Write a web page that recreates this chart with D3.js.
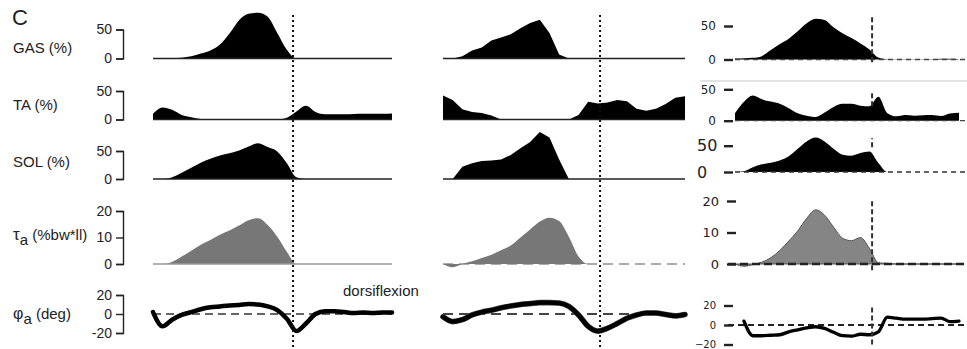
<!DOCTYPE html>
<html>
<head>
<meta charset="utf-8">
<script src="https://cdn.jsdelivr.net/npm/d3@7"></script>
<style>
    body { margin: 0; background: #fff; }
    text { font-family: "Liberation Sans", Arial, sans-serif; fill: #222; }
</style>
</head>
<body>
<div id="chart"></div>
<script>
// % of gait cycle, shared by every trace
const pct = [0, 4, 8, 12, 16, 20, 24, 28, 32, 36, 40, 44, 48, 52, 56, 60, 64, 68, 72, 76, 80, 84, 88, 92, 96, 100];

// left column
const gasLeft = [0, 0, 0.5, 1.5, 4, 8.5, 14, 24, 43, 66, 77, 79, 72, 44, 15, 0, 0, 0, 0, 0, 0, 0, 0, 0, 0, 0];
const taLeft = [10, 21, 17, 8, 4, 1, 0, 0, 0, 0, 0, 0, 0, 0, 3, 14, 24, 13, 9, 9, 9, 9.5, 10, 10, 10, 10.5];
const solLeft = [0, 0, 3, 11, 20, 29, 36, 42, 46, 51, 58, 64, 57, 49, 28, 3, 0, 0, 0, 0, 0, 0, 0, 0, 0, 0];
const torqueLeft = [0, 0, 0.8, 2.8, 5, 7.3, 9.1, 11, 12.6, 14.5, 16.5, 17.3, 14.7, 10.3, 4.6, 0, 0, 0, 0, 0, 0, 0, 0, 0, 0, 0];
const angleLeft = [2, -13, -6, -1, 2, 5, 7, 8, 9, 9.5, 10.5, 10, 8, 4, -5, -18, -10, 0, 3, 3, 2, 1, 1.5, 1, 1.5, 1.5];

// middle column
const gasMid = [0, 0, 4, 14, 19, 31, 36, 42, 52, 61, 67, 44, 7, 0, 0, 0, 0, 0, 0, 0, 0, 0, 0, 0, 0, 0];
const taMid = [42, 34, 18, 13, 11.5, 7, 0, 0, 0, 0, 0, 0, 0, 0, 8, 31, 28, 30, 34, 32, 19, 15.5, 19, 27, 38, 41];
const solMid = [0, 0, 22, 28, 32, 33, 35, 43, 55, 66, 84, 74, 35, 0, 0, 0, 0, 0, 0, 0, 0, 0, 0, 0, 0, 0];
const torqueMid = [0, -1.2, 0, 1, 2.3, 3.5, 5.2, 7, 10, 13, 16, 17.5, 16.2, 10.3, 2.8, 0, 0, 0, 0, 0, 0, 0, 0, 0, 0, 0];
const angleMid = [-3, -8, -6, -1, 2, 4, 6.5, 8.5, 10, 11, 12, 12, 11.5, 8, -1, -13, -18, -15, -10, -4.5, -1, 1, 1, -0.5, -2, -0.5];

// right column
const gasRight = [1.5, 2, 2.5, 5, 14, 23, 31, 42, 54, 61, 59, 48, 39, 32, 24, 15, 3, 0.5, 0.5, 0.5, 0.5, 0.5, 0.5, 1, 1, 0.5];
const taRight = [12, 30, 40, 34, 30.5, 27, 20, 12, 8, 6, 13, 22, 27, 27, 24, 23, 38, 12, 7, 9, 8, 8.5, 9, 7.5, 11.5, 12.5];
const solRight = [0, 1.5, 9, 14.5, 17.5, 22, 30, 44, 58, 65.5, 58, 44, 33, 31, 36, 39, 17, 0, 0, 0, 0, 0, 0, 0, 0, 0];
const torqueRight = [0, -0.7, -0.2, 0.6, 2, 4.3, 7.3, 10.5, 14.5, 17.2, 15.5, 11.7, 8.2, 7.4, 8.4, 5, 0.4, 0.2, 0, 0, 0, 0, 0, 0, 0, 0];
const angleRight = [null, 4, -11, -11, -10.5, -10, -7, -5, -3, -1.8, -3.5, -7.5, -11, -11.5, -9.5, -10, -7, 8, 7, 6, 6, 6, 6.5, 7, 3.4, 4];

const toeOff = [58.6, 64.9, 61.2];
const emgTicks = [0, 50];
const torqueTicks = [0, 10, 20];
const angleTicks = [-20, 0, 20];

const width = 967;
const height = 349;

const svg = d3.select("#chart").append("svg")
    .attr("width", width)
    .attr("height", height);

const xLeft = d3.scaleLinear().domain([0, 100]).range([153, 392]);
const xMid = d3.scaleLinear().domain([0, 100]).range([443, 685]);
const xRight = d3.scaleLinear().domain([0, 100]).range([735, 959]);

const yGas = d3.scaleLinear().domain([0, 50]).range([58.5, 29.5]);
const yTa = d3.scaleLinear().domain([0, 50]).range([119.5, 91]);
const ySol = d3.scaleLinear().domain([0, 50]).range([179, 151]);
const yTorque = d3.scaleLinear().domain([0, 20]).range([264, 211]);
const yAngle = d3.scaleLinear().domain([-20, 20]).range([333, 295]);

const yGasR = d3.scaleLinear().domain([0, 50]).range([59.5, 26]);
const yTaR = d3.scaleLinear().domain([0, 50]).range([120.7, 89.3]);
const ySolR = d3.scaleLinear().domain([0, 50]).range([172, 145.7]);
const yTorqueR = d3.scaleLinear().domain([0, 20]).range([264, 201]);
const yAngleR = d3.scaleLinear().domain([-20, 20]).range([344.5, 305.5]);

function drawArea(x, y, values, fill, curve, stroke) {
    const area = d3.area()
        .defined(d => d != null)
        .x((d, i) => x(pct[i]))
        .y0(y(0))
        .y1(d => y(d))
        .curve(curve);
    svg.append("path")
        .datum(values)
        .attr("d", area)
        .attr("fill", fill)
        .attr("stroke", stroke || "none")
        .attr("stroke-width", 1);
}

function drawLine(x, y, values, color, w, curve) {
    const line = d3.line()
        .defined(d => d != null)
        .x((d, i) => x(pct[i]))
        .y(d => y(d))
        .curve(curve || d3.curveMonotoneX);
    svg.append("path")
        .datum(values)
        .attr("d", line)
        .attr("fill", "none")
        .attr("stroke", color)
        .attr("stroke-width", w)
        .attr("stroke-linejoin", "round")
        .attr("stroke-linecap", "round");
}

function drawZero(x0, x1, yPos, color, w, dash) {
    svg.append("line")
        .attr("x1", x0).attr("x2", x1)
        .attr("y1", yPos).attr("y2", yPos)
        .attr("stroke", color)
        .attr("stroke-width", w)
        .attr("stroke-dasharray", dash || null);
}

function drawVertical(xPos, y0, y1, dash, w, color) {
    svg.append("line")
        .attr("x1", xPos).attr("x2", xPos)
        .attr("y1", y0).attr("y2", y1)
        .attr("stroke", color)
        .attr("stroke-width", w)
        .attr("stroke-dasharray", dash);
}

// bracket style axes on the left column
function bracketAxis(y, ticks) {
    const g = svg.append("g")
        .attr("transform", "translate(123,0)")
        .call(d3.axisLeft(y).tickValues(ticks).tickSizeInner(7).tickSizeOuter(7)
            .tickPadding(4).tickFormat(d => String(d)));
    g.select(".domain").attr("stroke", "#222").attr("stroke-width", 1.4);
    g.selectAll(".tick line").attr("stroke", "#222").attr("stroke-width", 1.4);
    g.selectAll("text").attr("font-size", 14);
}

// short dash ticks on the right column
function dashAxis(y, ticks, xPos, fontSize) {
    const g = svg.append("g")
        .attr("transform", `translate(${xPos},0)`)
        .call(d3.axisLeft(y).tickValues(ticks).tickSize(9).tickPadding(8).tickFormat(d3.format("d")));
    g.select(".domain").remove();
    g.selectAll(".tick line").attr("stroke", "#222").attr("stroke-width", 2.4);
    g.selectAll("text").style("font-family", "'DejaVu Sans', sans-serif").attr("font-size", fontSize);
    return g;
}

// ---- left column ----
drawArea(xLeft, yGas, gasLeft, "#000", d3.curveMonotoneX);
drawArea(xLeft, yTa, taLeft, "#000", d3.curveMonotoneX);
drawArea(xLeft, ySol, solLeft, "#000", d3.curveMonotoneX);
drawZero(153, 392, yGas(0), "#222", 1.5);
drawZero(153, 392, yTa(0), "#222", 1.5);
drawZero(153, 392, ySol(0), "#222", 1.5);
drawArea(xLeft, yTorque, torqueLeft, "#777", d3.curveMonotoneX);
drawZero(153, 392, yTorque(0), "#999", 1.5);
drawZero(153, 392, yAngle(0), "#333", 1.5, "8,5");
drawLine(xLeft, yAngle, angleLeft, "#000", 4.5);

bracketAxis(yGas, emgTicks);
bracketAxis(yTa, emgTicks);
bracketAxis(ySol, emgTicks);
bracketAxis(yTorque, torqueTicks);
bracketAxis(yAngle, angleTicks);

// ---- middle column ----
drawArea(xMid, yGas, gasMid, "#000", d3.curveLinear);
drawArea(xMid, yTa, taMid, "#000", d3.curveLinear);
drawArea(xMid, ySol, solMid, "#000", d3.curveLinear);
drawZero(443, 685, yGas(0), "#222", 1.5);
drawZero(443, 685, yTa(0), "#222", 1.5);
drawZero(443, 685, ySol(0), "#222", 1.5);
drawZero(443, 685, yTorque(0), "#aaa", 2, "10,6");
drawArea(xMid, yTorque, torqueMid, "#777", d3.curveMonotoneX);
drawZero(443, 685, yAngle(0), "#444", 2, "10,6");
drawLine(xMid, yAngle, angleMid, "#444", 5.6);
drawLine(xMid, yAngle, angleMid, "#000", 4.4);

// ---- right column ----
drawZero(700, 967, 81, "#e2e2e2", 2);
drawArea(xRight, yGasR, gasRight, "#000", d3.curveMonotoneX);
drawArea(xRight, yTaR, taRight, "#000", d3.curveMonotoneX);
drawArea(xRight, ySolR, solRight, "#000", d3.curveMonotoneX);
drawZero(735, 967, yGasR(0), "#444", 1.3, "5,4");
drawZero(735, 967, yTaR(0), "#444", 1.3, "5,4");
drawZero(735, 967, ySolR(0), "#333", 1.5, "5,4");
drawArea(xRight, yTorqueR, torqueRight, "#858585", d3.curveMonotoneX, "#555");
drawZero(728, 967, yTorqueR(0), "#222", 2.5, "8,4");
drawZero(728, 967, yAngleR(0), "#222", 2, "6,4");
drawLine(xRight, yAngleR, angleRight, "#000", 3.3);

dashAxis(yGasR, emgTicks, 733, 12);
dashAxis(yTaR, emgTicks, 733, 12);
dashAxis(ySolR, emgTicks, 733, 16).selectAll("text")
    .attr("text-anchor", "start").attr("x", -36);
dashAxis(yTorqueR, torqueTicks, 736, 13);
dashAxis(yAngleR, angleTicks, 733, 10);

// toe-off markers
drawVertical(xLeft(toeOff[0]), 15, 349, "2,3", 2, "#111");
drawVertical(xMid(toeOff[1]), 15, 349, "2,3", 2, "#111");
const rightSpans = [[yGasR, -4, 66], [yTaR, 23, 48], [ySolR, 47, 64], [yTorqueR, -2, 20], [yAngleR, -20, 21]];
rightSpans.forEach(s => {
    drawVertical(xRight(toeOff[2]), s[0](s[1]), s[0](s[2]), "5,3", 2, "#333");
});

// ---- labels ----
svg.append("text").attr("x", 12).attr("y", 25).attr("font-size", 22).text("C");
svg.append("text").attr("x", 13).attr("y", 52.5).attr("font-size", 15).text("GAS (%)");
svg.append("text").attr("x", 13).attr("y", 110).attr("font-size", 15).text("TA (%)");
svg.append("text").attr("x", 13).attr("y", 167).attr("font-size", 15).text("SOL (%)");

const tauLabel = svg.append("text").attr("x", 13).attr("y", 240).attr("font-size", 15);
tauLabel.append("tspan").attr("font-size", 17).text("τ");
tauLabel.append("tspan").attr("dy", 5).text("a");
tauLabel.append("tspan").attr("dy", -5).text(" (%bw*ll)");

const phiLabel = svg.append("text").attr("x", 13).attr("y", 319).attr("font-size", 15);
phiLabel.append("tspan").attr("font-size", 16).text("φ");
phiLabel.append("tspan").attr("dy", 5).text("a");
phiLabel.append("tspan").attr("dy", -5).text(" (deg)");

svg.append("text").attr("x", 343).attr("y", 296).attr("font-size", 15).attr("fill", "#333").text("dorsiflexion");
</script>
</body>
</html>
